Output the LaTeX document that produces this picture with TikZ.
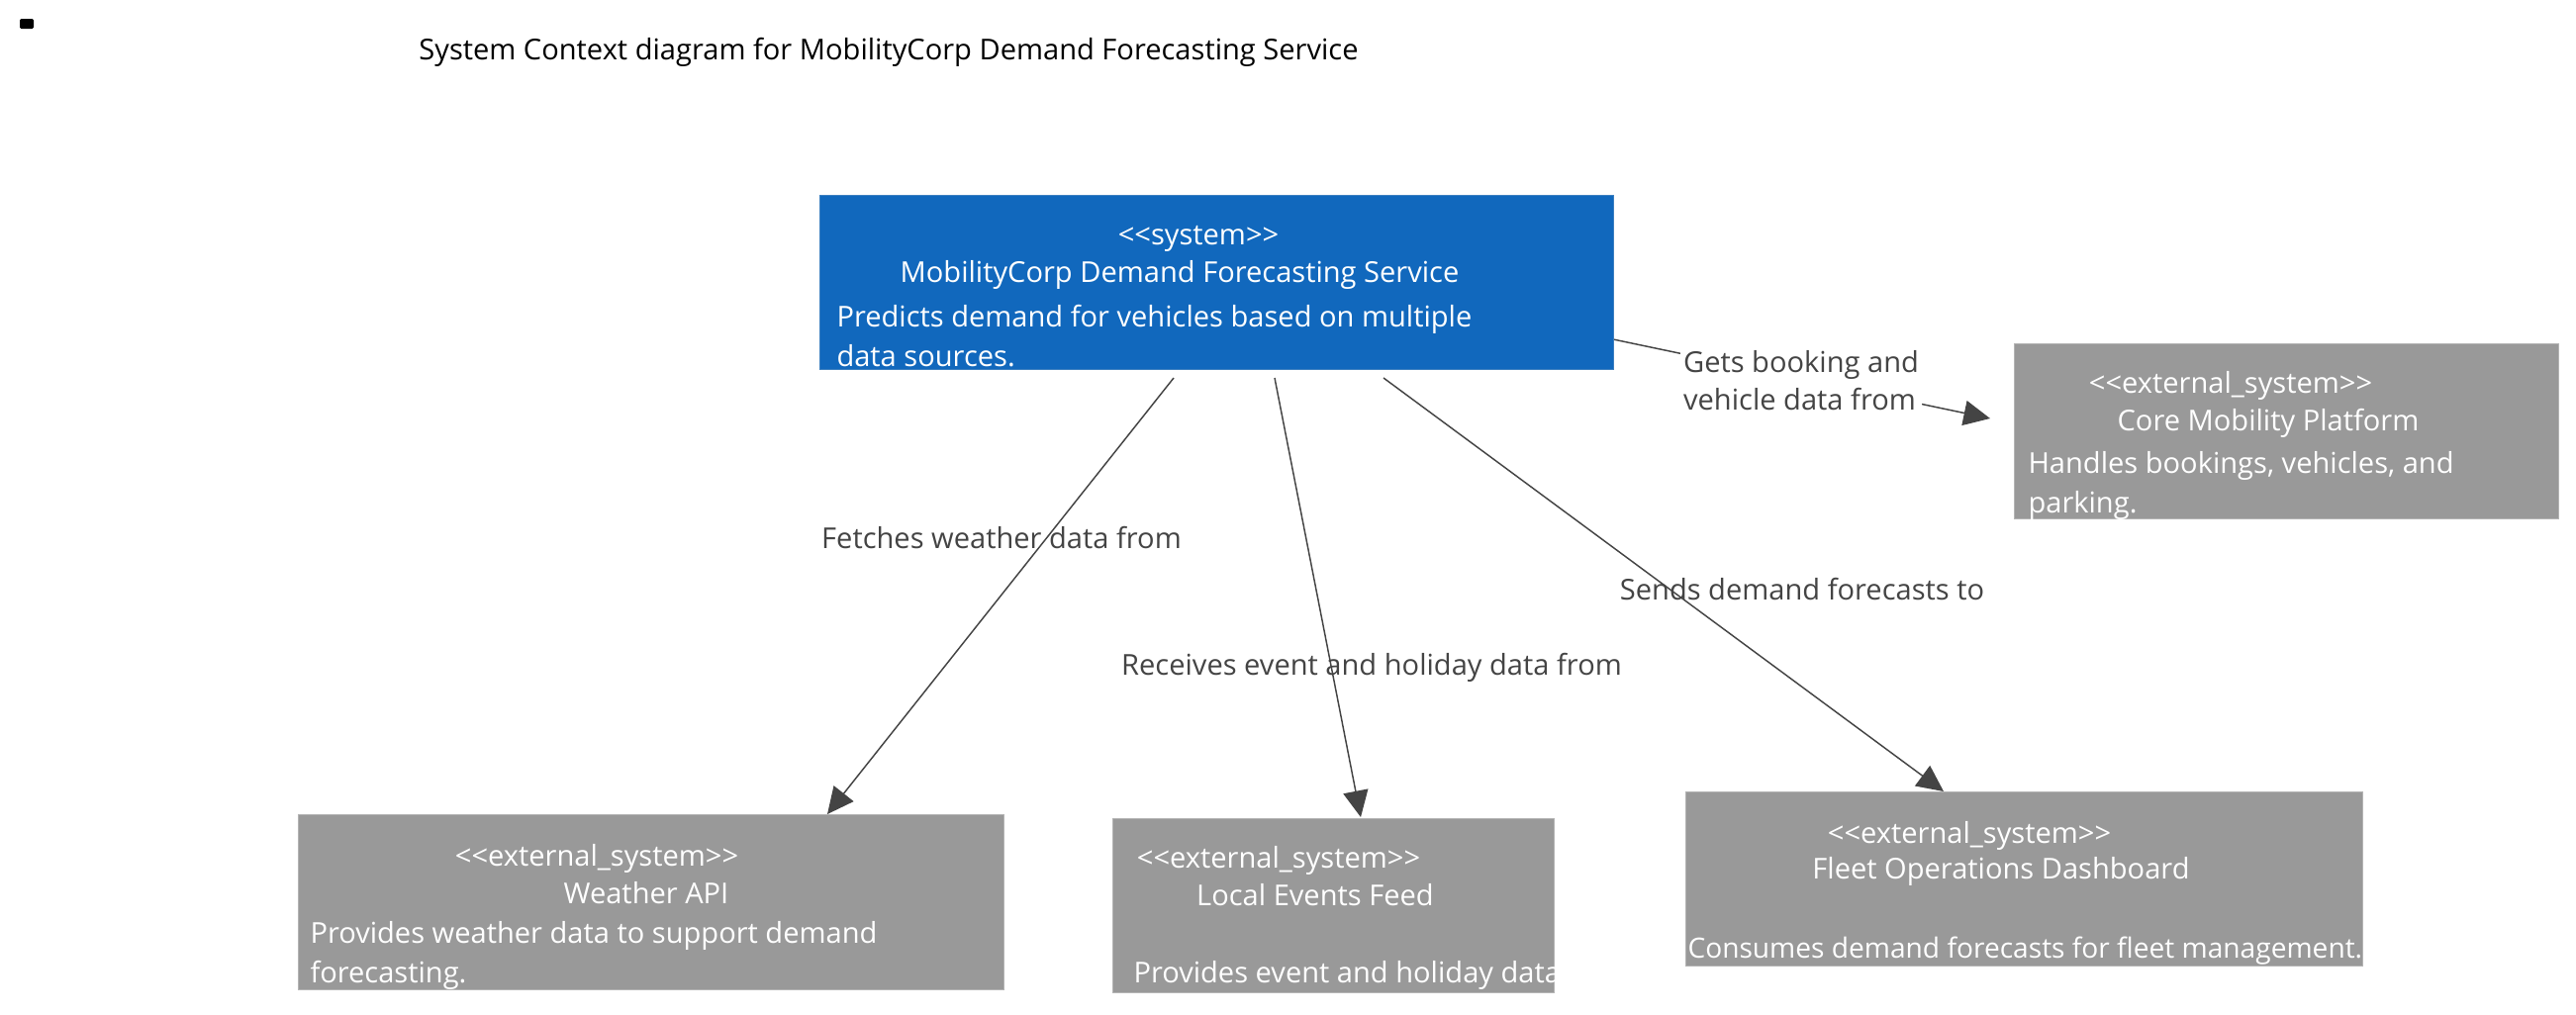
\documentclass[tikz,border=0pt]{standalone}
\usepackage{fontspec}
\setmainfont{Open Sans}
\usetikzlibrary{arrows.meta}
\tikzset{every picture/.style={line width=0.75pt}}
\definecolor{sysblue}{RGB}{17,104,189}
\definecolor{sysedge}{RGB}{60,127,192}
\definecolor{extgray}{RGB}{153,153,153}
\definecolor{extedge}{RGB}{180,180,180}
\definecolor{relgray}{RGB}{68,68,68}
\tikzset{
  sysbox/.style={draw=sysedge,fill=sysblue,inner sep=0pt,outer sep=0pt,anchor=north west},
  extbox/.style={draw=extedge,fill=extgray,inner sep=0pt,outer sep=0pt,anchor=north west},
  boxtxt/.style={text=white,inner sep=0pt,font=\fontsize{21.8pt}{26pt}\selectfont},
  reltxt/.style={text=relgray,inner sep=0pt,font=\fontsize{21.8pt}{26pt}\selectfont},
  rel/.style={draw=relgray,line width=1.1pt,-{Triangle[length=20pt,width=19pt]}}
}
\newcommand{\stereo}[1]{{<}{<}#1{>}{>}}

\begin{document}
\begin{tikzpicture}[x=0.75pt,y=0.75pt,yscale=-1,xscale=1]
\useasboundingbox (0,0) rectangle (2603,1025);

%Shape: Rectangle [mark]
\fill [rounded corners=1pt] (20,19) rectangle (34,29);
%Title
\node [anchor=base,inner sep=0pt,font=\fontsize{21.8pt}{26pt}\selectfont] (title) at (898,60) {System Context diagram for MobilityCorp Demand Forecasting Service};

%Connector start/end points
\coordinate (sys-w) at (1186,382);
\coordinate (sys-e) at (1288,382);
\coordinate (sys-f) at (1398,382);
\coordinate (sys-c) at (1630,343);
\coordinate (w-in) at (836,823);
\coordinate (e-in) at (1375,826);
\coordinate (f-in) at (1964,800);
\coordinate (c-in) at (2011,423);

%Connectors
\draw [rel] (sys-w) -- (w-in);
\draw [rel] (sys-e) -- (e-in);
\draw [rel] (sys-f) -- (f-in);
\draw [rel] (sys-c) -- (c-in);

%Shape: Rectangle [system]
\node [sysbox,minimum width=601.5pt,minimum height=132pt] (sys) at (828,197) {};
\node [boxtxt,anchor=base] (sys-st) at (1211,247) {\stereo{system}};
\node [boxtxt,anchor=base] (sys-nm) at (1192,285) {MobilityCorp Demand Forecasting Service};
\node [boxtxt,anchor=base west] (sys-d1) at (845,330) {Predicts demand for vehicles based on multiple};
\node [boxtxt,anchor=base west] (sys-d2) at (845,370) {data sources.};

%Shape: Rectangle [core]
\node [extbox,minimum width=412.5pt,minimum height=132.75pt] (core) at (2035,347) {};
\node [boxtxt,anchor=base] (core-st) at (2254,397) {\stereo{external\_system}};
\node [boxtxt,anchor=base] (core-nm) at (2292,435) {Core Mobility Platform};
\node [boxtxt,anchor=base west] (core-d1) at (2049,478) {Handles bookings, vehicles, and};
\node [boxtxt,anchor=base west] (core-d2) at (2049,518) {parking.};

%Shape: Rectangle [weather]
\node [extbox,minimum width=534.75pt,minimum height=132.75pt] (weather) at (301,823) {};
\node [boxtxt,anchor=base] (weather-st) at (603,875) {\stereo{external\_system}};
\node [boxtxt,anchor=base] (weather-nm) at (653,913) {Weather API};
\node [boxtxt,anchor=base west] (weather-d1) at (313,953) {Provides weather data to support demand};
\node [boxtxt,anchor=base west] (weather-d2) at (313,993) {forecasting.};

%Shape: Rectangle [events]
\node [extbox,minimum width=334.5pt,minimum height=132pt] (events) at (1124,827) {};
\node [boxtxt,anchor=base] (events-st) at (1292,877) {\stereo{external\_system}};
\node [boxtxt,anchor=base] (events-nm) at (1329,915) {Local Events Feed};
\begin{scope}
\clip (1124,827) rectangle (1570,1003);
\node [boxtxt,anchor=base west] (events-d1) at (1145,993) {Provides event and holiday data};
\end{scope}

%Shape: Rectangle [fleet]
\node [extbox,minimum width=513pt,minimum height=132pt] (fleet) at (1703,800) {};
\node [boxtxt,anchor=base] (fleet-st) at (1990,852) {\stereo{external\_system}};
\node [boxtxt,anchor=base] (fleet-nm) at (2022,888) {Fleet Operations Dashboard};
\begin{scope}
\clip (1703,800) rectangle (2387,976);
\node [boxtxt,anchor=base west,font=\fontsize{21.1pt}{26pt}\selectfont] (fleet-d1) at (1705,968) {Consumes demand forecasts for fleet management.};
\end{scope}

%Connector labels
\node [reltxt,fill=white,align=left,inner sep=2pt,font=\fontsize{21.8pt}{28.5pt}\selectfont] (lbl-core) at (1820,385) {Gets booking and\\vehicle data from};
\node [reltxt,anchor=base] (lbl-weather) at (1012,554) {Fetches weather data from};
\node [reltxt,anchor=base] (lbl-events) at (1386,682) {Receives event and holiday data from};
\node [reltxt,anchor=base] (lbl-fleet) at (1821,606) {Sends demand forecasts to};

\end{tikzpicture}
\end{document}
